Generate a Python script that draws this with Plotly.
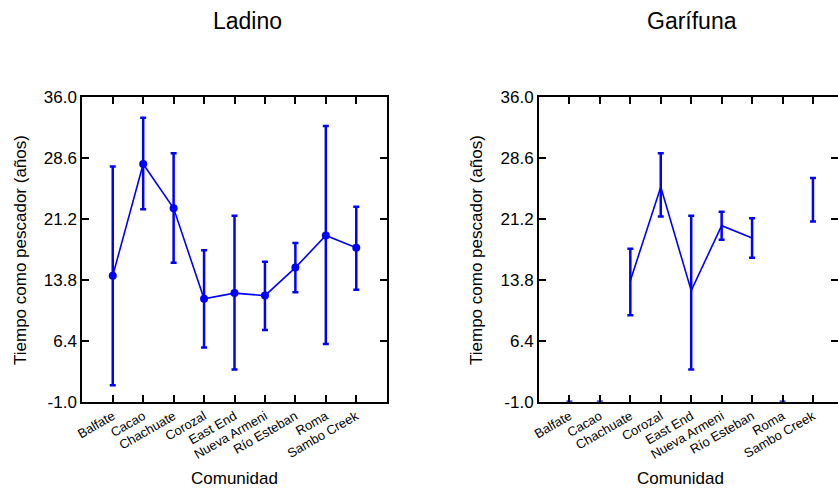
import plotly.graph_objects as go

# ---------------- data ----------------
comunidades = ["Balfate", "Cacao", "Chachuate", "Corozal", "East End",
               "Nueva Armeni", "Río Esteban", "Roma", "Sambo Creek"]

ladino_media = [14.3, 27.9, 22.5, 11.5, 12.2, 11.9, 15.3, 19.2, 17.7]
ladino_inf = [1.0, 22.4, 15.9, 5.6, 2.9, 7.7, 12.3, 6.0, 12.6]
ladino_sup = [27.6, 33.5, 29.2, 17.4, 21.6, 16.0, 18.3, 32.5, 22.7]

garifuna_media = [None, None, 13.7, 25.1, 12.5, 20.4, 18.9, None, 23.5]
garifuna_inf = [None, None, 9.5, 21.5, 2.9, 18.7, 16.5, None, 20.9]
garifuna_sup = [None, None, 17.6, 29.2, 21.6, 22.1, 21.3, None, 26.2]
garifuna_sin_datos = ["Balfate", "Cacao", "Roma"]

y_ticks = [-1.0, 6.4, 13.8, 21.2, 28.6, 36.0]
y_ticktext = ["-1.0", "6.4", "13.8", "21.2", "28.6", "36.0"]

titulos = ["Ladino", "Garífuna"]
x_titulo = "Comunidad"
y_titulo = "Tiempo como pescador (años)"

# ---------------- layout geometry ----------------
W, H = 838, 491
FONT = "Liberation Sans, Arial, sans-serif"
BLUE = "#0000ff"

left_x0, left_x1 = 82.3, 386.7
right_x0 = 539.0
px_per_cat = (left_x1 - left_x0) / 10.0
right_x1 = W
right_range_max = -1 + (right_x1 - right_x0) / px_per_cat
plot_top, plot_bot = 97.3, 401.7


def px(x):
    return x / W


def py(y):
    return 1 - y / H


def err(media, inf, sup):
    up = [None if m is None else s - m for m, s in zip(media, sup)]
    dn = [None if m is None else m - l for m, l in zip(media, inf)]
    return up, dn


fig = go.Figure()

lu, ld = err(ladino_media, ladino_inf, ladino_sup)
fig.add_trace(go.Scatter(
    x=comunidades, y=ladino_media, mode="lines+markers",
    line=dict(color=BLUE, width=1.6), marker=dict(color=BLUE, size=8),
    error_y=dict(type="data", symmetric=False, array=lu, arrayminus=ld,
                 color=BLUE, thickness=2.5, width=3),
    xaxis="x", yaxis="y", showlegend=False, hoverinfo="skip"))

gu, gd = err(garifuna_media, garifuna_inf, garifuna_sup)
fig.add_trace(go.Scatter(
    x=comunidades, y=garifuna_media, mode="lines",
    line=dict(color=BLUE, width=1.6),
    error_y=dict(type="data", symmetric=False, array=gu, arrayminus=gd,
                 color=BLUE, thickness=2.5, width=3),
    xaxis="x2", yaxis="y2", showlegend=False, hoverinfo="skip"))

fig.add_trace(go.Scatter(
    x=garifuna_sin_datos, y=[y_ticks[0]] * len(garifuna_sin_datos),
    mode="markers", marker=dict(color=BLUE, size=1, opacity=0),
    error_y=dict(type="constant", value=0, color=BLUE, thickness=2.5, width=3),
    xaxis="x2", yaxis="y2", showlegend=False, hoverinfo="skip"))

fig.add_trace(go.Scatter(x=[None], y=[None], xaxis="x2", yaxis="y3",
                         showlegend=False, hoverinfo="skip"))

xcommon = dict(type="category", categoryorder="array", categoryarray=comunidades,
               ticks="inside", ticklen=7, tickwidth=1.8, tickcolor="black",
               showline=True, linewidth=2, linecolor="black",
               showgrid=False, zeroline=False, tickangle=-30, automargin=False,
               tickfont=dict(family=FONT, size=13, color="black"))
ycommon = dict(range=[y_ticks[0], y_ticks[-1]], tickmode="array",
               tickvals=y_ticks, ticktext=y_ticktext, automargin=False,
               ticks="inside", ticklen=7, tickwidth=1.8, tickcolor="black",
               showline=True, linewidth=2, linecolor="black",
               showgrid=False, zeroline=False,
               tickfont=dict(family=FONT, size=17, color="black"))

ydom = [py(plot_bot), py(plot_top)]

fig.update_layout(
    template="none",
    width=W, height=H, margin=dict(l=0, r=0, t=0, b=0, pad=0, autoexpand=False),
    paper_bgcolor="white", plot_bgcolor="white",
    font=dict(family=FONT, color="black"),
    xaxis=dict(xcommon, domain=[px(left_x0), px(left_x1)], range=[-1, 9],
               anchor="y", mirror="ticks"),
    yaxis=dict(ycommon, domain=ydom, anchor="x", mirror="ticks"),
    xaxis2=dict(xcommon, domain=[px(right_x0), 1.0], range=[-1, right_range_max],
                anchor="y2", mirror="ticks"),
    yaxis2=dict(ycommon, domain=ydom, anchor="x2", mirror=False),
    yaxis3=dict(ycommon, overlaying="y2", side="right", anchor="x2",
                showline=False, showticklabels=False),
)

ann = []
common = dict(xref="paper", yref="paper", showarrow=False,
              xanchor="center", yanchor="middle")
for t, cx in zip(titulos, [247, 692]):
    ann.append(dict(common, text=t, x=px(cx), y=py(21),
                    font=dict(family=FONT, size=23)))
for cx in [234, 680]:
    ann.append(dict(common, text=x_titulo, x=px(cx), y=py(478),
                    font=dict(family=FONT, size=17)))
for cx in [20, 476]:
    ann.append(dict(common, text=y_titulo, x=px(cx), y=py(250), textangle=-90,
                    font=dict(family=FONT, size=17)))
fig.update_layout(annotations=ann)

fig.write_html("out.html")
